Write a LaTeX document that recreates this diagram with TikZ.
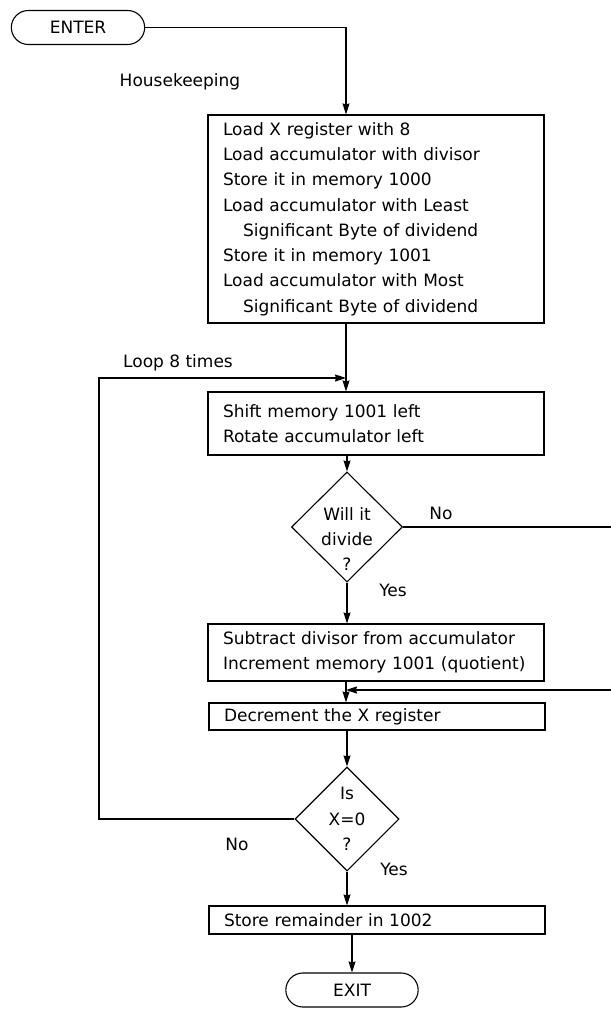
\documentclass[tikz,border=0pt]{standalone}
\usepackage{fontspec}
\setmainfont{DejaVu Sans}
\usetikzlibrary{shapes.geometric,shapes.misc,arrows.meta}
\tikzset{gbox/.style={
    rectangle,
    draw,
    line width=1.1pt,
    text width=306pt,
    align=left,
    inner xsep=15pt,
    minimum width=336pt
  },
  tbox/.style={rounded rectangle,draw,line width=1.1pt,
    minimum width=140pt,minimum height=34pt},
  qbox/.style={diamond,draw,line width=1.1pt,inner sep=0pt},
  lbl/.style={inner sep=0pt},
}

\begin{document}
\begin{tikzpicture}[x=1pt,y=-1pt,line width=1.1pt,
    >={Stealth[length=11pt,width=7pt,inset=1pt]},
    every node/.append style={font=\fontsize{17}{25.3}\selectfont}]
  \useasboundingbox (0,0) rectangle (610,1011);
  \coordinate (ax) at (346,0);
  \coordinate (lx) at (99,0);
  \coordinate (rx) at (613,0);
  % nodes
  \node [tbox] (enter) at (78,27.5) {ENTER};
  \node [lbl] (hk) at (180,82) {Housekeeping};
  \node [gbox,minimum height=208pt] (init) at (376,219) {Load X register with 8\\
    Load accumulator with divisor\\
    Store it in memory 1000\\
    Load accumulator with Least\\
    \hspace*{20pt}Significant Byte of dividend\\
    Store it in memory 1001\\
    Load accumulator with Most\\
    \hspace*{20pt}Significant Byte of dividend};
  \node [lbl] (loop) at (178,363) {Loop 8 times};
  \node [gbox,minimum height=63pt] (shift) at (376,423.5) {Shift memory 1001 left\\
    Rotate accumulator left};
  \node [qbox,minimum width=111pt,minimum height=110pt,
    label={[align=center,yshift=-12pt]center:Will it\\divide\\?}] (div) at (347,527) {};
  \node [lbl] (no1) at (441,513) {No};
  \node [lbl] (yes1) at (393,590) {Yes};
  \node [gbox,minimum height=57pt] (sub) at (376,652.5) {Subtract divisor from accumulator\\
    Increment memory 1001 (quotient)};
  \node [gbox,minimum height=27pt] (dec) at (377,716.5) {Decrement the X register};
  \node [qbox,minimum width=104pt,minimum height=104pt,
    label={[align=center]center:Is\\X=0\\?}] (zero) at (347,819) {};
  \node [lbl] (no2) at (237,844) {No};
  \node [lbl] (yes2) at (394,869) {Yes};
  \node [gbox,minimum height=28pt] (store) at (377,920) {Store remainder in 1002};
  \node [tbox,minimum width=139pt] (exit) at (352,990) {EXIT};
  % connectors
  \draw[->] (enter.east) -| (init.north -| ax);
  \draw[->] (init.south -| ax) -- (shift.north -| ax);
  \draw[->] (shift.south -| div.north) -- (div.north);
  \draw[->] (div.south) -- (sub.north -| div.south);
  \draw[->] (div.east) -- (div.east -| rx) |- (ax |- 690,690);
  \draw[->] (sub.south -| ax) -- (dec.north -| ax);
  \draw[->] (dec.south -| zero.north) -- (zero.north);
  \draw[->] (zero.south) -- (store.north -| zero.south);
  \draw[->] (zero.west) -- (zero.west -| lx) |- (ax |- 378,378);
  \draw[->] (store.south -| exit.north) -- (exit.north);
\end{tikzpicture}
\end{document}
